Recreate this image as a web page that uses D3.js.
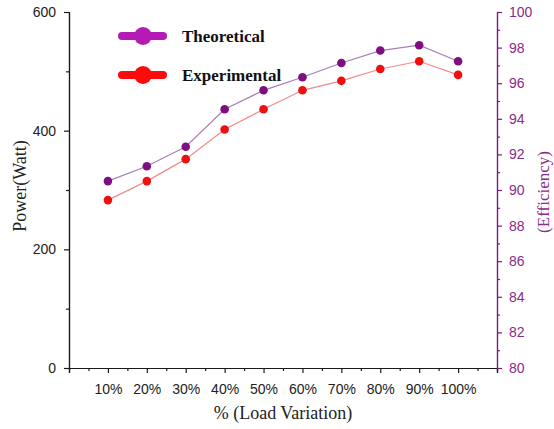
<!DOCTYPE html>
<html>
<head>
<meta charset="utf-8">
<script src="https://cdn.jsdelivr.net/npm/d3@7"></script>
<style>
  body { margin: 0; background: #fff; }
  .tick text { font-family: "Liberation Sans", Arial, sans-serif; font-size: 14px; }
</style>
</head>
<body>
<svg id="chart" width="554" height="429"></svg>
<script>
// Load levels and measured power values (W)
const categories = ["10%", "20%", "30%", "40%", "50%", "60%", "70%", "80%", "90%", "100%"];
const theoretical = [315, 340, 373, 436, 468, 490, 514, 535, 544, 517];
const experimental = [283, 315, 352, 402, 436, 468, 484, 504, 517, 494];

const powerTicks = [0, 200, 400, 600];
const powerMinorTicks = [100, 300, 500];
const efficiencyTicks = [80, 82, 84, 86, 88, 90, 92, 94, 96, 98, 100];
const efficiencyMinorTicks = [81, 83, 85, 87, 89, 91, 93, 95, 97, 99];

const svg = d3.select("#chart");
const plotLeft = 69, plotRight = 497, plotTop = 12, plotBottom = 368;

const x = d3.scaleLinear().domain([0, categories.length + 1]).range([plotLeft, plotRight]);
const y = d3.scaleLinear().domain([0, 600]).range([plotBottom, plotTop]);
const yEff = d3.scaleLinear().domain([80, 100]).range([plotBottom, plotTop]);

const axisColor = "#1a1a1a";
const effColor = "#7a1a7a";

function styleAxis(g, color) {
  g.select(".domain").attr("stroke", color).attr("stroke-width", 1.2);
  g.selectAll(".tick line").attr("stroke", color).attr("stroke-width", 1.2);
  g.selectAll(".tick text").attr("fill", color === effColor ? "#8a2a8a" : "#222");
}

// Bottom axis: majors at each load step, minors between them
const xMinor = svg.append("g").attr("transform", `translate(0,${plotBottom})`)
  .call(d3.axisBottom(x).tickValues(d3.range(0.5, 11, 1)).tickSize(3).tickFormat(""));
styleAxis(xMinor, axisColor);
const xAxis = svg.append("g").attr("transform", `translate(0,${plotBottom})`)
  .call(d3.axisBottom(x).tickValues(d3.range(0, 12)).tickSize(5).tickPadding(11)
    .tickFormat(d => categories[d - 1] || ""));
styleAxis(xAxis, axisColor);

// Left axis: power
const yMinor = svg.append("g").attr("transform", `translate(${plotLeft},0)`)
  .call(d3.axisLeft(y).tickValues(powerMinorTicks).tickSize(3).tickFormat(""));
styleAxis(yMinor, axisColor);
const yAxis = svg.append("g").attr("transform", `translate(${plotLeft},0)`)
  .call(d3.axisLeft(y).tickValues(powerTicks).tickSize(5).tickPadding(8).tickSizeOuter(0));
styleAxis(yAxis, axisColor);

// Right axis: efficiency
const eMinor = svg.append("g").attr("transform", `translate(${plotRight},0)`)
  .call(d3.axisRight(yEff).tickValues(efficiencyMinorTicks).tickSize(3).tickFormat(""));
styleAxis(eMinor, effColor);
const eAxis = svg.append("g").attr("transform", `translate(${plotRight},0)`)
  .call(d3.axisRight(yEff).tickValues(efficiencyTicks).tickSize(5).tickPadding(7).tickSizeOuter(0));
styleAxis(eAxis, effColor);

// Series
const series = [
  { name: "Theoretical", values: theoretical, line: "#a77fb8", dot: "#7d0f80", key: "#b41ab4" },
  { name: "Experimental", values: experimental, line: "#f28a8a", dot: "#ee1010", key: "#ff0a0a" }
];

const line = d3.line().x((d, i) => x(i + 1)).y(d => y(d));

series.forEach(s => {
  svg.append("path").datum(s.values)
    .attr("d", line).attr("fill", "none")
    .attr("stroke", s.line).attr("stroke-width", 1.2);
  svg.append("g").selectAll("circle").data(s.values).join("circle")
    .attr("cx", (d, i) => x(i + 1)).attr("cy", d => y(d))
    .attr("r", 4.3).attr("fill", s.dot);
});

// Legend
const legend = svg.append("g");
series.forEach((s, i) => {
  const ly = 36 + i * 39;
  legend.append("line").attr("x1", 122).attr("x2", 163).attr("y1", ly).attr("y2", ly)
    .attr("stroke", s.key).attr("stroke-width", 8).attr("stroke-linecap", "round");
  legend.append("circle").attr("cx", 143).attr("cy", ly).attr("r", 9).attr("fill", s.key);
  legend.append("text").attr("x", 182).attr("y", ly + 6)
    .attr("font-family", "'Liberation Serif', 'Times New Roman', serif")
    .attr("font-weight", "bold").attr("font-size", 17).attr("fill", "#111")
    .text(s.name);
});

// Axis titles
const serif = "'Liberation Serif', 'Times New Roman', serif";
svg.append("text").attr("x", (plotLeft + plotRight) / 2).attr("y", 419)
  .attr("text-anchor", "middle").attr("font-family", serif).attr("font-size", 18)
  .attr("fill", "#222").text("% (Load Variation)");
svg.append("text").attr("transform", "translate(26,186) rotate(-90)")
  .attr("text-anchor", "middle").attr("font-family", serif).attr("font-size", 18)
  .attr("fill", "#222").text("Power(Watt)");
svg.append("text").attr("transform", "translate(549,192) rotate(-90)")
  .attr("text-anchor", "middle").attr("font-family", serif).attr("font-size", 17)
  .attr("fill", "#8a2a8a").text("(Efficiency)");
</script>
</body>
</html>
